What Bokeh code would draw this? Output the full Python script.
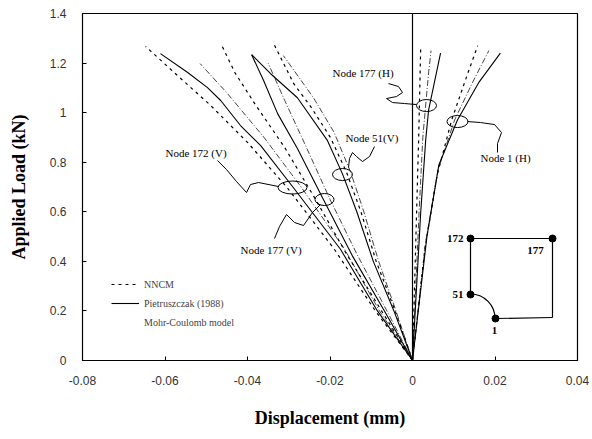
from bokeh.plotting import figure
from bokeh.models import Span, Legend, LegendItem, CustomJSTickFormatter, FixedTicker
from bokeh.core.properties import value
from bokeh.embed import file_html
from bokeh.resources import INLINE

# ---------------- data (displacement mm, load kN) ----------------
# Node 172 (V)
n172_pie_x = [0, -0.0085, -0.0175, -0.029, -0.0368, -0.0417, -0.0465, -0.0497, -0.0545, -0.0611]
n172_pie_y = [0, 0.2, 0.45, 0.70, 0.867, 0.948, 1.049, 1.101, 1.162, 1.238]
n172_nn_x = [0, -0.009, -0.019, -0.0305, -0.040, -0.049, -0.057, -0.0647]
n172_nn_y = [0, 0.2, 0.45, 0.70, 0.88, 1.03, 1.15, 1.267]
n172_mc_x = [0, -0.008, -0.0165, -0.027, -0.036, -0.045, -0.0515]
n172_mc_y = [0, 0.2, 0.45, 0.70, 0.90, 1.08, 1.198]
# Node 177 (V)
n177v_pie_x = [0, -0.0068, -0.0145, -0.0216, -0.0279, -0.0327, -0.0361, -0.039]
n177v_pie_y = [0, 0.2, 0.42, 0.65, 0.855, 0.996, 1.13, 1.234]
n177v_nn_x = [0, -0.0075, -0.016, -0.0235, -0.031, -0.038, -0.043, -0.0465]
n177v_nn_y = [0, 0.2, 0.43, 0.65, 0.86, 1.03, 1.16, 1.28]
n177v_mc_x = [0, -0.0062, -0.0135, -0.020, -0.026, -0.031, -0.035]
n177v_mc_y = [0, 0.2, 0.43, 0.65, 0.87, 1.05, 1.20]
# Node 51 (V)
n51_pie_x = [0, -0.0045, -0.0095, -0.0135, -0.017, -0.0206, -0.0279, -0.0344, -0.039]
n51_pie_y = [0, 0.2, 0.4, 0.6, 0.754, 0.887, 1.06, 1.157, 1.234]
n51_nn_x = [0, -0.0042, -0.0088, -0.0125, -0.016, -0.0199, -0.0245, -0.0288, -0.0337]
n51_nn_y = [0, 0.2, 0.4, 0.6, 0.76, 0.90, 1.02, 1.117, 1.28]
n51_mc_x = [0, -0.004, -0.0082, -0.0118, -0.015, -0.019, -0.024, -0.0313]
n51_mc_y = [0, 0.2, 0.4, 0.6, 0.76, 0.92, 1.06, 1.23]
# Node 177 (H)
n177h_pie_x = [0, 0.001, 0.002, 0.0032, 0.0039, 0.0068]
n177h_pie_y = [0, 0.3, 0.6, 0.89, 1.01, 1.24]
n177h_nn_x = [0, 0.0005, 0.001, 0.0015, 0.002]
n177h_nn_y = [0, 0.3, 0.6, 0.9, 1.27]
n177h_mc_x = [0, 0.0008, 0.0016, 0.0025, 0.0039, 0.0045]
n177h_mc_y = [0, 0.3, 0.6, 0.9, 1.16, 1.25]
# Node 1 (H)
n1_pie_x = [0, 0.0035, 0.0064, 0.0109, 0.016, 0.0213]
n1_pie_y = [0, 0.5, 0.79, 0.97, 1.12, 1.24]
n1_nn_x = [0, 0.003, 0.006, 0.0095, 0.0128, 0.0158]
n1_nn_y = [0, 0.45, 0.75, 0.97, 1.13, 1.27]
n1_mc_x = [0, 0.0032, 0.0062, 0.0102, 0.0145, 0.0185]
n1_mc_y = [0, 0.48, 0.77, 0.97, 1.12, 1.25]

x_ticks = [-0.08, -0.06, -0.04, -0.02, 0, 0.02, 0.04]
y_ticks = [0, 0.2, 0.4, 0.6, 0.8, 1.0, 1.2, 1.4]
legend_labels = ["NNCM", "Pietruszczak (1988)", "Mohr-Coulomb model"]

# ---------------- figure ----------------
p = figure(width=592, height=439, x_range=(-0.08, 0.04), y_range=(0, 1.4),
           output_backend="svg", toolbar_location=None,
           min_border_left=82, min_border_right=15, min_border_top=13, min_border_bottom=79)
p.xgrid.visible = False
p.ygrid.visible = False
p.outline_line_color = "black"
p.outline_line_width = 1.2
p.background_fill_color = "white"
p.border_fill_color = "white"

for ax in (p.xaxis[0], p.yaxis[0]):
    ax.major_tick_in = 4
    ax.major_tick_out = 0
    ax.minor_tick_in = 0
    ax.minor_tick_out = 0
    ax.axis_line_color = "black"
    ax.major_tick_line_color = "black"
    ax.major_label_text_font = "Liberation Sans"
    ax.major_label_text_font_size = "12px"
    ax.major_label_text_color = "#333333"
    ax.axis_label_text_font = "Liberation Serif"
    ax.axis_label_text_font_style = "bold"
    ax.axis_label_text_font_size = "18px"
    ax.axis_label_text_color = "black"

p.xaxis[0].ticker = FixedTicker(ticks=x_ticks)
p.yaxis[0].ticker = FixedTicker(ticks=y_ticks)
fmt = CustomJSTickFormatter(code="return Number(tick.toFixed(3)).toString();")
p.xaxis[0].formatter = fmt
p.yaxis[0].formatter = fmt
p.xaxis[0].axis_label = "Displacement (mm)"
p.yaxis[0].axis_label = "Applied Load (kN)"
p.xaxis[0].major_label_standoff = 15
p.yaxis[0].major_label_standoff = 16
p.xaxis[0].axis_label_standoff = 20
p.yaxis[0].axis_label_standoff = 18

p.add_layout(Span(location=0, dimension="height", line_color="black", line_width=1.2))

# ---------------- curves ----------------
nn_style = dict(line_color="black", line_width=1.2, line_dash="3 4")
pie_style = dict(line_color="black", line_width=1.1)
mc_style = dict(line_color="#444444", line_width=1.0, line_dash="6 2 1 2")

series = [
    (n172_nn_x, n172_nn_y, n172_pie_x, n172_pie_y, n172_mc_x, n172_mc_y),
    (n177v_nn_x, n177v_nn_y, n177v_pie_x, n177v_pie_y, n177v_mc_x, n177v_mc_y),
    (n51_nn_x, n51_nn_y, n51_pie_x, n51_pie_y, n51_mc_x, n51_mc_y),
    (n177h_nn_x, n177h_nn_y, n177h_pie_x, n177h_pie_y, n177h_mc_x, n177h_mc_y),
    (n1_nn_x, n1_nn_y, n1_pie_x, n1_pie_y, n1_mc_x, n1_mc_y),
]
nn_r = pie_r = None
for nx, ny, px_, py_, mx, my in series:
    p.line(mx, my, **mc_style)
    nn_r = p.line(nx, ny, **nn_style)
    pie_r = p.line(px_, py_, **pie_style)

mc_dummy = p.line([0, 0], [0, 0], line_alpha=0)

legend = Legend(items=[LegendItem(label=legend_labels[0], renderers=[nn_r]),
                       LegendItem(label=legend_labels[1], renderers=[pie_r]),
                       LegendItem(label=legend_labels[2], renderers=[mc_dummy])],
                location=(29, 32), padding=0, margin=0, spacing=7,
                glyph_width=28, glyph_height=12, label_height=12, label_standoff=5,
                border_line_color=None, background_fill_alpha=0,
                label_text_font="Liberation Serif", label_text_font_size="10px")
p.add_layout(legend, "center")

# ---------------- annotations (pixel helper) ----------------
def P(X, Y):
    return ((X - 412) / 4125.0, (360 - Y) / 247.9)

def pts(lst):
    xs, ys = zip(*[P(a, b) for a, b in lst])
    return list(xs), list(ys)

serif = value("Liberation Serif")
labels = [("Node 177 (H)", 332, 72), ("Node 51(V)", 345, 137), ("Node 172 (V)", 165, 152),
          ("Node 177 (V)", 240, 249), ("Node 1 (H)", 480, 157)]
for t, X, Y in labels:
    x, y = P(X, Y)
    p.text([x], [y], text=[t], text_font=serif, text_font_size="11px",
           text_baseline="middle", text_align="left", text_color="black")

ellipses = [(292, 187, 29, 13), (324, 199, 19, 12), (342, 174, 20, 12), (426, 105, 20, 12), (457, 121, 21, 12)]
for X, Y, w, h in ellipses:
    x, y = P(X, Y)
    p.ellipse([x], [y], width=w, height=h, width_units="screen", height_units="screen",
              fill_alpha=0, line_color="black", line_width=1)

arrows = [
    [(388, 83), (398, 86), (402, 92), (396, 96), (386, 98), (392, 102), (404, 103), (416, 104)],
    [(374, 146), (369, 156), (362, 161), (356, 156), (352, 152), (349, 158), (348, 167)],
    [(497, 152), (497, 143), (501, 132), (494, 124), (480, 122), (467, 121)],
    [(217, 160), (226, 169), (236, 181), (246, 192), (250, 184), (258, 182), (278, 186)],
    [(274, 238), (279, 226), (286, 214), (294, 222), (303, 225), (312, 212), (320, 204)],
]
for a in arrows:
    xs, ys = pts(a)
    p.line(xs, ys, line_color="black", line_width=1)

# ---------------- inset diagram ----------------
seg = [((470, 238), (552, 238)), ((552, 238), (552, 317)), ((495, 318), (552, 317)), ((470, 238), (470, 294))]
for a, b in seg:
    xs, ys = pts([a, b])
    p.line(xs, ys, line_color="black", line_width=1.2)
cx, cy = P(470, 318)
p.arc([cx], [cy], radius=24.5, radius_units="screen", start_angle=0, end_angle=1.5708,
      line_color="black", line_width=1.2)
dots = [(470, 238), (552, 238), (470, 294), (495, 318)]
dx, dy = pts(dots)
p.scatter(dx, dy, size=7, color="black")
inset_labels = [("172", 463, 238, "right"), ("177", 535, 250, "center"), ("51", 463, 294, "right"), ("1", 494, 330, "center")]
for t, X, Y, al in inset_labels:
    x, y = P(X, Y)
    p.text([x], [y], text=[t], text_font=serif, text_font_style="bold", text_font_size="11px",
           text_baseline="middle", text_align=al, text_color="black")

open("out.html", "w").write(file_html(p, INLINE))
